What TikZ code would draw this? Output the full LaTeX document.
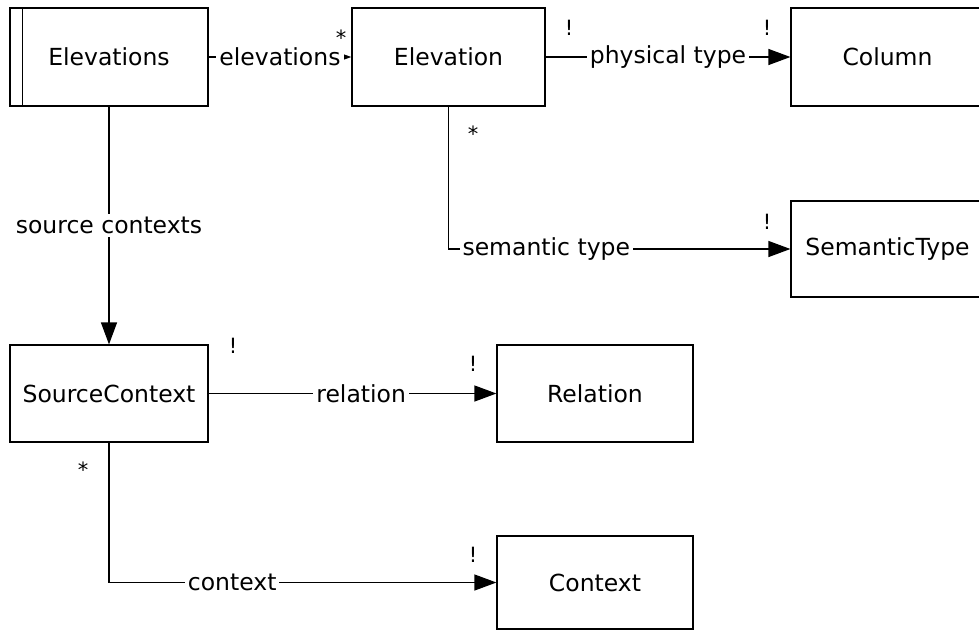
\documentclass[tikz,border=0pt]{standalone}
\usepackage{fontspec}
\setmainfont{DejaVu Sans}
\usetikzlibrary{arrows.meta}
\begin{document}
\begin{tikzpicture}[x=1pt,y=-1pt,
  box/.style={draw, line width=1.2pt, inner sep=0pt, font=\fontsize{23.5}{28}\selectfont},
  lbl/.style={fill=white, inner sep=3pt, font=\fontsize{23.5}{28}\selectfont},
  conn/.style={line width=1.2pt},
  bigarrow/.style={-{Triangle[length=22pt,width=16pt]}},
  smallarrow/.style={-{Triangle[length=9pt,width=6pt]}},
  mult/.style={inner sep=0pt, font=\fontsize{21}{24}\selectfont}
]
\useasboundingbox (0,0) rectangle (979,630);
\clip (0,0) rectangle (979,630);
\fill[white] (0,0) rectangle (979,630);

% boxes
\node[box, minimum width=198pt, minimum height=98pt] (els) at (109,57) {Elevations};
\draw[line width=1.2pt] ([xshift=13pt]els.north west) -- ([xshift=13pt]els.south west);
\node[box, minimum width=193pt, minimum height=98pt] (el) at (448.5,57) {Elevation};
\node[box, minimum width=193pt, minimum height=98pt] (col) at (887.5,57) {Column};
\node[box, minimum width=193pt, minimum height=96pt] (sem) at (887.5,249) {SemanticType};
\node[box, minimum width=198pt, minimum height=97pt] (sc) at (109,393.5) {SourceContext};
\node[box, minimum width=196pt, minimum height=97pt] (rel) at (595,393.5) {Relation};
\node[box, minimum width=196pt, minimum height=93pt] (ctx) at (595,582.5) {Context};

% connectors
\draw[conn, smallarrow] (els.east) -- node[lbl]{elevations} (el.west);
\draw[conn, bigarrow] (el.east) -- node[lbl]{physical type} (col.west);
\draw[conn, bigarrow] (el.south) |- node[lbl, pos=0.643]{semantic type} (sem.west);
\draw[conn, bigarrow] (els.south) -- node[lbl]{source contexts} (sc.north);
\draw[conn, bigarrow] (sc.east) -- node[lbl, pos=0.53]{relation} (rel.west);
\draw[conn, bigarrow] (sc.south) |- node[lbl, pos=0.659]{context} (ctx.west);

% multiplicities
\node[mult] (m1) at (341,38) {*};
\node[mult] (m2) at (569,28) {!};
\node[mult] (m3) at (767,28) {!};
\node[mult] (m4) at (473,134) {*};
\node[mult] (m5) at (767,222) {!};
\node[mult] (m6) at (233,346) {!};
\node[mult] (m7) at (473,364) {!};
\node[mult] (m8) at (83,470) {*};
\node[mult] (m9) at (473,555) {!};
\end{tikzpicture}
\end{document}
